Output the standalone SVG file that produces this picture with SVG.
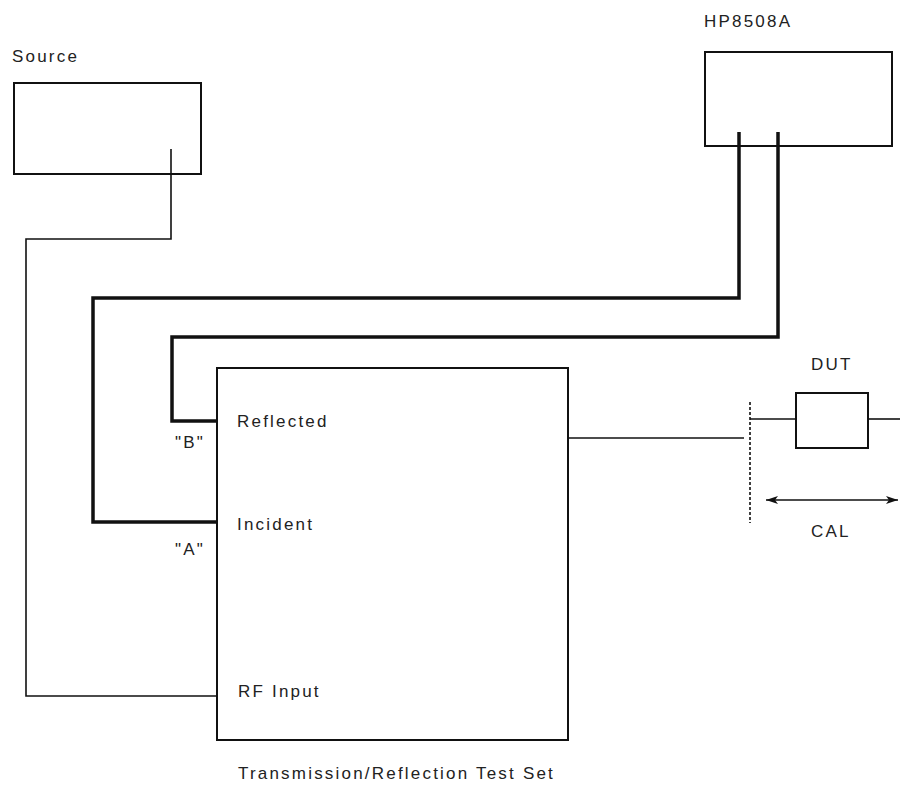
<svg xmlns="http://www.w3.org/2000/svg" width="900" height="789" viewBox="0 0 900 789">
<defs>
<style>
.box{fill:none;stroke:#111;stroke-width:2}
.thin{fill:none;stroke:#111;stroke-width:1.6}
.thick{fill:none;stroke:#111;stroke-width:3.5}
.lbl{font-family:"Liberation Sans",Arial,sans-serif;font-size:17px;letter-spacing:2.2px;fill:#222}
</style>
<marker id="ah" viewBox="0 0 12 8" refX="12" refY="4" markerWidth="12" markerHeight="8" markerUnits="userSpaceOnUse" orient="auto-start-reverse">
<path d="M0,0 L12,4 L0,8 L3,4 Z" fill="#111"/>
</marker>
</defs>
<rect width="900" height="789" fill="#fff"/>
<g id="source">
<rect class="box" x="14" y="83" width="187" height="91"/>
<text class="lbl" x="12" y="62">Source</text>
</g>
<g id="hp8508a">
<rect class="box" x="705" y="52" width="187" height="94"/>
<text class="lbl" x="704" y="27">HP8508A</text>
</g>
<g id="testset">
<rect class="box" x="217" y="368" width="351" height="372"/>
<text class="lbl" x="237" y="427">Reflected</text>
<text class="lbl" x="237" y="530">Incident</text>
<text class="lbl" x="238" y="697">RF Input</text>
<text class="lbl" x="238" y="779" letter-spacing="2.4">Transmission/Reflection Test Set</text>
</g>
<g id="dut">
<rect class="box" x="796" y="393" width="72" height="55"/>
<text class="lbl" x="811" y="370">DUT</text>
</g>
<g id="labels">
<text class="lbl" x="175" y="448">"B"</text>
<text class="lbl" x="175" y="555">"A"</text>
<text class="lbl" x="811" y="537">CAL</text>
</g>
<g id="connectors">
<polyline class="thin" points="171,149 171,239 26,239 26,696 217,696"/>
<polyline class="thick" points="739,132 739,298 93,298 93,522 217,522"/>
<polyline class="thick" points="778,132 778,337 172,337 172,421 217,421"/>
<line class="thin" x1="568" y1="438" x2="744" y2="438"/>
<line class="thin" x1="750" y1="402" x2="750" y2="523" stroke-dasharray="3,2"/>
<line class="thin" x1="750" y1="419" x2="796" y2="419"/>
<line class="thin" x1="868" y1="419" x2="900" y2="419"/>
<line class="thin" x1="766" y1="500" x2="898" y2="500" marker-start="url(#ah)" marker-end="url(#ah)"/>
</g>
</svg>
